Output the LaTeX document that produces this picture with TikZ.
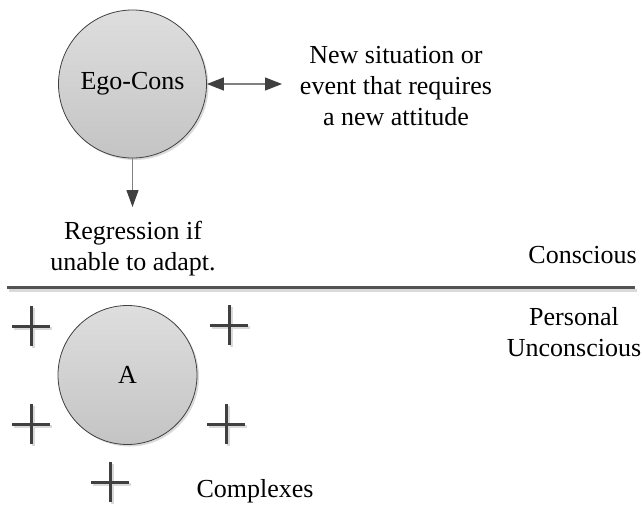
\documentclass[tikz,border=0pt]{standalone}
\usepackage{fontspec}
\setmainfont{Liberation Serif}
\usetikzlibrary{arrows.meta}

\definecolor{inkgray}{RGB}{64,64,64}
\definecolor{linegray}{RGB}{128,128,128}
\definecolor{shadowgray}{RGB}{218,218,218}
\definecolor{balltop}{RGB}{222,222,222}
\definecolor{ballbottom}{RGB}{196,196,196}

\tikzset{
  ball/.style={circle, draw=inkgray, line width=0.8pt, inner sep=0pt,
    top color=balltop, bottom color=ballbottom,
    font=\fontsize{26}{31}\selectfont},
  ballshadow/.style={circle, fill=shadowgray, inner sep=0pt},
  label text/.style={align=center, inner sep=0pt,
    font=\fontsize{26}{31}\selectfont},
  link/.style={draw=linegray, line width=1.2pt,
    -{Triangle[length=17pt,width=12pt,fill=inkgray,color=inkgray]}},
  twolink/.style={draw=linegray, line width=1.2pt,
    {Triangle[length=17pt,width=13pt,fill=inkgray,color=inkgray]}-{Triangle[length=17pt,width=13pt,fill=inkgray,color=inkgray]}},
  divider/.style={draw=inkgray!90, line width=3pt},
  divshadow/.style={draw=shadowgray, line width=3pt},
  crossbar/.style={draw=inkgray, line width=3pt},
  crossshadow/.style={draw=shadowgray, line width=3pt},
}

% a complex: a small plus sign with a soft offset shadow
\newcommand{\complexmark}[2]{%
  \draw[crossshadow] (#1+2,#2+2-20) -- (#1+2,#2+2+20);
  \draw[crossshadow] (#1+2-19,#2+2) -- (#1+2+19,#2+2);
  \draw[crossbar] (#1,#2-20) -- (#1,#2+20);
  \draw[crossbar] (#1-19,#2) -- (#1+19,#2);
}

\begin{document}
\begin{tikzpicture}[x=1pt, y=-1pt]
  \useasboundingbox (0,0) rectangle (642,506);

  % conscious ego
  \node[ballshadow, minimum size=148pt] (egoshadow) at (134.5,86) {};
  \node[ball, minimum size=148pt] (ego) at (132.5,84) {Ego-Cons};

  \node[label text] (newevent) at (396,86) {New situation or\\event that requires\\a new attitude};
  \coordinate (newtip) at (282,84);
  \draw[twolink] (ego.east) -- (newtip);

  \coordinate (regtip) at (132.5,207);
  \draw[link] (ego.south) -- (regtip);
  \node[label text] (regress) at (133,249) {Regression if\\unable to adapt.};

  % threshold of consciousness
  \coordinate (divL) at (7,287);
  \coordinate (divR) at (635,287);
  \draw[divshadow] (9,290) -- (637,290);
  \draw[divider] (divL) -- (divR);

  \node[label text, anchor=east] (conscious) at (637,255) {Conscious};
  \node[label text] (personal) at (574,332) {Personal\\Unconscious};

  % personal unconscious: archetype core and its complexes
  \node[ballshadow, minimum size=139pt] (ashadow) at (129.5,377) {};
  \node[ball, minimum size=139pt] (arch) at (127.5,375) {A};

  \complexmark{31}{326}
  \complexmark{229}{325}
  \complexmark{31}{424}
  \complexmark{226}{424}
  \complexmark{110}{482}

  \node[label text] (complexes) at (255,491) {Complexes};
\end{tikzpicture}
\end{document}
